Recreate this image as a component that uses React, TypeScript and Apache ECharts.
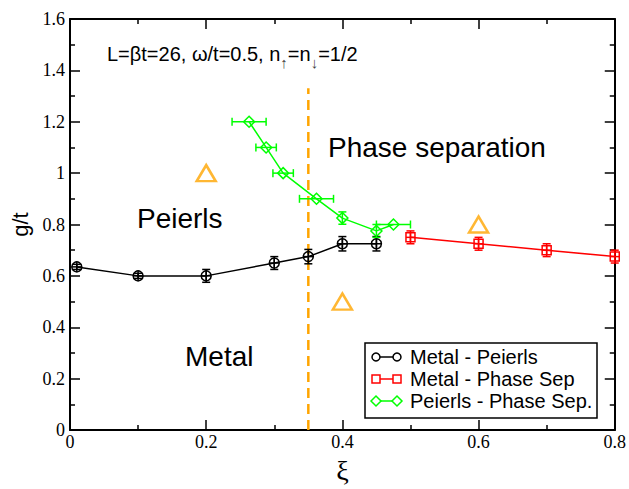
import React, { useEffect, useRef } from "react";
import * as echarts from "echarts";

// ---- data ----
const metalPeierlsX = [0.01, 0.1, 0.2, 0.3, 0.35, 0.4, 0.45];
const metalPeierlsY = [0.635, 0.6, 0.6, 0.65, 0.675, 0.725, 0.725];
const metalPeierlsYErr = [0.01, 0.01, 0.025, 0.025, 0.028, 0.028, 0.028];

const metalPhaseX = [0.5, 0.6, 0.7, 0.8];
const metalPhaseY = [0.75, 0.725, 0.7, 0.675];
const metalPhaseYErr = [0.025, 0.025, 0.025, 0.025];

const peierlsPhaseX = [0.263, 0.288, 0.313, 0.362, 0.4, 0.45, 0.475];
const peierlsPhaseY = [1.2, 1.1, 1.0, 0.9, 0.825, 0.775, 0.8];
const peierlsPhaseXErr = [0.025, 0.015, 0.015, 0.025, 0, 0, 0.025];
const peierlsPhaseYErr = [0, 0, 0, 0, 0.024, 0.025, 0];

const triangleX = [0.2, 0.4, 0.6];
const triangleY = [1.0, 0.5, 0.8];

const boundaryX = [0.35, 0.35];
const boundaryY = [0, 1.33];

const legendNames = ["Metal - Peierls", "Metal - Phase Sep", "Peierls - Phase Sep."];
const regionLabels = ["Phase separation", "Peierls", "Metal"];

const BLACK = "#000000";
const RED = "#ff0000";
const GREEN = "#00ff00";
const ORANGE = "#ffa500";
const SERIF = "Liberation Serif";
const SANS = "Liberation Sans";

function errRender(color: string, cross: number) {
  return (params: any, api: any) => {
    const x = api.value(0);
    const y = api.value(1);
    const ex = api.value(2);
    const ey = api.value(3);
    const c = api.coord([x, y]);
    const st = { stroke: color, lineWidth: 1.5 };
    const children: any[] = [];
    const cap = 4;
    if (ey > 0) {
      const t = api.coord([x, y + ey]);
      const b = api.coord([x, y - ey]);
      children.push({ type: "line", shape: { x1: c[0], y1: t[1], x2: c[0], y2: b[1] }, style: st });
      children.push({ type: "line", shape: { x1: c[0] - cap, y1: t[1], x2: c[0] + cap, y2: t[1] }, style: st });
      children.push({ type: "line", shape: { x1: c[0] - cap, y1: b[1], x2: c[0] + cap, y2: b[1] }, style: st });
    }
    if (ex > 0) {
      const l = api.coord([x - ex, y]);
      const r = api.coord([x + ex, y]);
      children.push({ type: "line", shape: { x1: l[0], y1: c[1], x2: r[0], y2: c[1] }, style: st });
      children.push({ type: "line", shape: { x1: l[0], y1: c[1] - cap, x2: l[0], y2: c[1] + cap }, style: st });
      children.push({ type: "line", shape: { x1: r[0], y1: c[1] - cap, x2: r[0], y2: c[1] + cap }, style: st });
    }
    if (cross > 0) {
      children.push({ type: "line", shape: { x1: c[0] - cross, y1: c[1], x2: c[0] + cross, y2: c[1] }, style: st });
      children.push({ type: "line", shape: { x1: c[0], y1: c[1] - cross, x2: c[0], y2: c[1] + cross }, style: st });
    }
    return { type: "group", children };
  };
}

function legendRow(idx: number, y: number, color: string, kind: string): any[] {
  const st = { stroke: color, lineWidth: 1.5, fill: "#fff" };
  const xa = 376;
  const xb = 397;
  const els: any[] = [
    { type: "line", shape: { x1: xa, y1: y, x2: xb, y2: y }, style: { stroke: color, lineWidth: 1.5 } },
  ];
  for (const cx of [xa, xb]) {
    if (kind === "circle") {
      els.push({ type: "circle", shape: { cx, cy: y, r: 4 }, style: st });
    } else if (kind === "square") {
      els.push({ type: "rect", shape: { x: cx - 4, y: y - 4, width: 8, height: 8 }, style: st });
    } else {
      els.push({
        type: "polygon",
        shape: { points: [[cx - 5, y], [cx, y - 5], [cx + 5, y], [cx, y + 5]] },
        style: st,
      });
    }
  }
  els.push({
    type: "text",
    x: 410,
    y,
    style: {
      text: legendNames[idx],
      fontFamily: SANS,
      fontSize: 20,
      fill: "#000",
      align: "left",
      verticalAlign: "middle",
    },
  });
  return els;
}

export default function App() {
  const ref = useRef<HTMLDivElement>(null);
  useEffect(() => {
    if (!ref.current) return;
    const chart = echarts.init(ref.current, null, { renderer: "svg" });

    const axisCommon = {
      type: "value",
      axisLine: { show: true, onZero: false, lineStyle: { color: "#000", width: 2 } },
      axisTick: { show: true, inside: true, length: 10, lineStyle: { color: "#000", width: 1.5 } },
      minorTick: { show: true, splitNumber: 2, length: 5, lineStyle: { color: "#000", width: 1.5 } },
      splitLine: { show: false },
      minorSplitLine: { show: false },
    };

    const serifLabel = {
      color: "#000",
      margin: 5,
      formatter: (v: number) => "{t|" + String(Math.round(v * 10) / 10) + "}",
      rich: { t: { fontFamily: SERIF, fontSize: 18, color: "#000" } },
    };

    const option: any = {
      animation: false,
      backgroundColor: "#fff",
      textStyle: { fontFamily: SERIF },
      grid: { left: 70, right: 12, top: 19, bottom: 47, containLabel: false },
      xAxis: [
        {
          ...axisCommon,
          position: "bottom",
          min: 0,
          max: 0.8,
          interval: 0.2,
          axisLabel: { ...serifLabel, margin: 3 },
          name: "ξ",
          nameLocation: "middle",
          nameGap: 26,
          nameTextStyle: { fontFamily: SERIF, fontSize: 28, color: "#000" },
        },
        {
          ...axisCommon,
          position: "top",
          min: 0,
          max: 0.8,
          interval: 0.2,
          axisLabel: { show: false },
        },
      ],
      yAxis: [
        {
          ...axisCommon,
          position: "left",
          min: 0,
          max: 1.6,
          interval: 0.2,
          axisLabel: { ...serifLabel, margin: 5 },
          name: "g/t",
          nameLocation: "middle",
          nameRotate: 90,
          nameGap: 38,
          nameTextStyle: { fontFamily: SANS, fontSize: 22, color: "#000" },
        },
        {
          ...axisCommon,
          position: "right",
          min: 0,
          max: 1.6,
          interval: 0.2,
          axisLabel: { show: false },
        },
      ],
      series: [
        {
          type: "line",
          name: "boundary",
          data: boundaryX.map((x, i) => [x, boundaryY[i]]),
          symbol: "none",
          lineStyle: { color: ORANGE, width: 2.5, type: [10, 6] },
          z: 1,
        },
        {
          type: "scatter",
          name: "triangles",
          data: triangleX.map((x, i) => [x, triangleY[i]]),
          symbol: "triangle",
          symbolSize: [19, 16],
          itemStyle: { color: "rgba(0,0,0,0)", borderColor: ORANGE, borderWidth: 2.5 },
          z: 2,
        },
        {
          type: "line",
          name: legendNames[0],
          data: metalPeierlsX.map((x, i) => [x, metalPeierlsY[i]]),
          symbol: "circle",
          symbolSize: 10,
          lineStyle: { color: BLACK, width: 1.5 },
          itemStyle: { color: "rgba(0,0,0,0)", borderColor: BLACK, borderWidth: 1.5 },
          z: 3,
        },
        {
          type: "custom",
          name: "err0",
          data: metalPeierlsX.map((x, i) => [x, metalPeierlsY[i], 0, metalPeierlsYErr[i]]),
          encode: { x: 0, y: 1 },
          renderItem: errRender(BLACK, 5),
          z: 4,
        },
        {
          type: "line",
          name: legendNames[1],
          data: metalPhaseX.map((x, i) => [x, metalPhaseY[i]]),
          symbol: "rect",
          symbolSize: 9,
          lineStyle: { color: RED, width: 1.5 },
          itemStyle: { color: "rgba(0,0,0,0)", borderColor: RED, borderWidth: 1.5 },
          z: 3,
        },
        {
          type: "custom",
          name: "err1",
          data: metalPhaseX.map((x, i) => [x, metalPhaseY[i], 0, metalPhaseYErr[i]]),
          encode: { x: 0, y: 1 },
          renderItem: errRender(RED, 4.5),
          z: 4,
        },
        {
          type: "line",
          name: legendNames[2],
          data: peierlsPhaseX.map((x, i) => [x, peierlsPhaseY[i]]),
          symbol: "diamond",
          symbolSize: 11,
          lineStyle: { color: GREEN, width: 1.5 },
          itemStyle: { color: "rgba(0,0,0,0)", borderColor: GREEN, borderWidth: 1.5 },
          z: 3,
        },
        {
          type: "custom",
          name: "err2",
          data: peierlsPhaseX.map((x, i) => [x, peierlsPhaseY[i], peierlsPhaseXErr[i], peierlsPhaseYErr[i]]),
          encode: { x: 0, y: 1 },
          renderItem: errRender(GREEN, 0),
          z: 4,
        },
      ],
      graphic: [
        {
          type: "text",
          x: 107,
          y: 54,
          style: {
            text: "{m|L=βt=26, ω/t=0.5, n}{s|↑}{m|=n}{s|↓}{m|=1/2}",
            fontFamily: SANS,
            fontSize: 20,
            fill: "#000",
            align: "left",
            verticalAlign: "middle",
            rich: {
              m: { fontFamily: SANS, fontSize: 20, fill: "#000", lineHeight: 20 },
              s: {
                fontFamily: SANS,
                fontSize: 15,
                fill: "#444",
                lineHeight: 32,
                verticalAlign: "bottom",
              },
            },
          },
        },
        {
          type: "text",
          x: 328,
          y: 147,
          style: {
            text: regionLabels[0],
            fontFamily: SANS,
            fontSize: 28,
            fill: "#000",
            align: "left",
            verticalAlign: "middle",
          },
        },
        {
          type: "text",
          x: 137,
          y: 218,
          style: {
            text: regionLabels[1],
            fontFamily: SANS,
            fontSize: 28,
            fill: "#000",
            align: "left",
            verticalAlign: "middle",
          },
        },
        {
          type: "text",
          x: 185,
          y: 356,
          style: {
            text: regionLabels[2],
            fontFamily: SANS,
            fontSize: 28,
            fill: "#000",
            align: "left",
            verticalAlign: "middle",
          },
        },
        {
          type: "group",
          z: 100,
          children: [
            {
              type: "rect",
              shape: { x: 365, y: 343, width: 232, height: 75 },
              style: { fill: "#fff", stroke: "#000", lineWidth: 1.5 },
            },
            ...legendRow(0, 357, BLACK, "circle"),
            ...legendRow(1, 379, RED, "square"),
            ...legendRow(2, 401, GREEN, "diamond"),
          ],
        },
      ],
    };

    chart.setOption(option);
    return () => chart.dispose();
  }, []);

  return <div ref={ref} style={{ width: 629, height: 489, position: "absolute", left: 0, top: 0 }} />;
}
